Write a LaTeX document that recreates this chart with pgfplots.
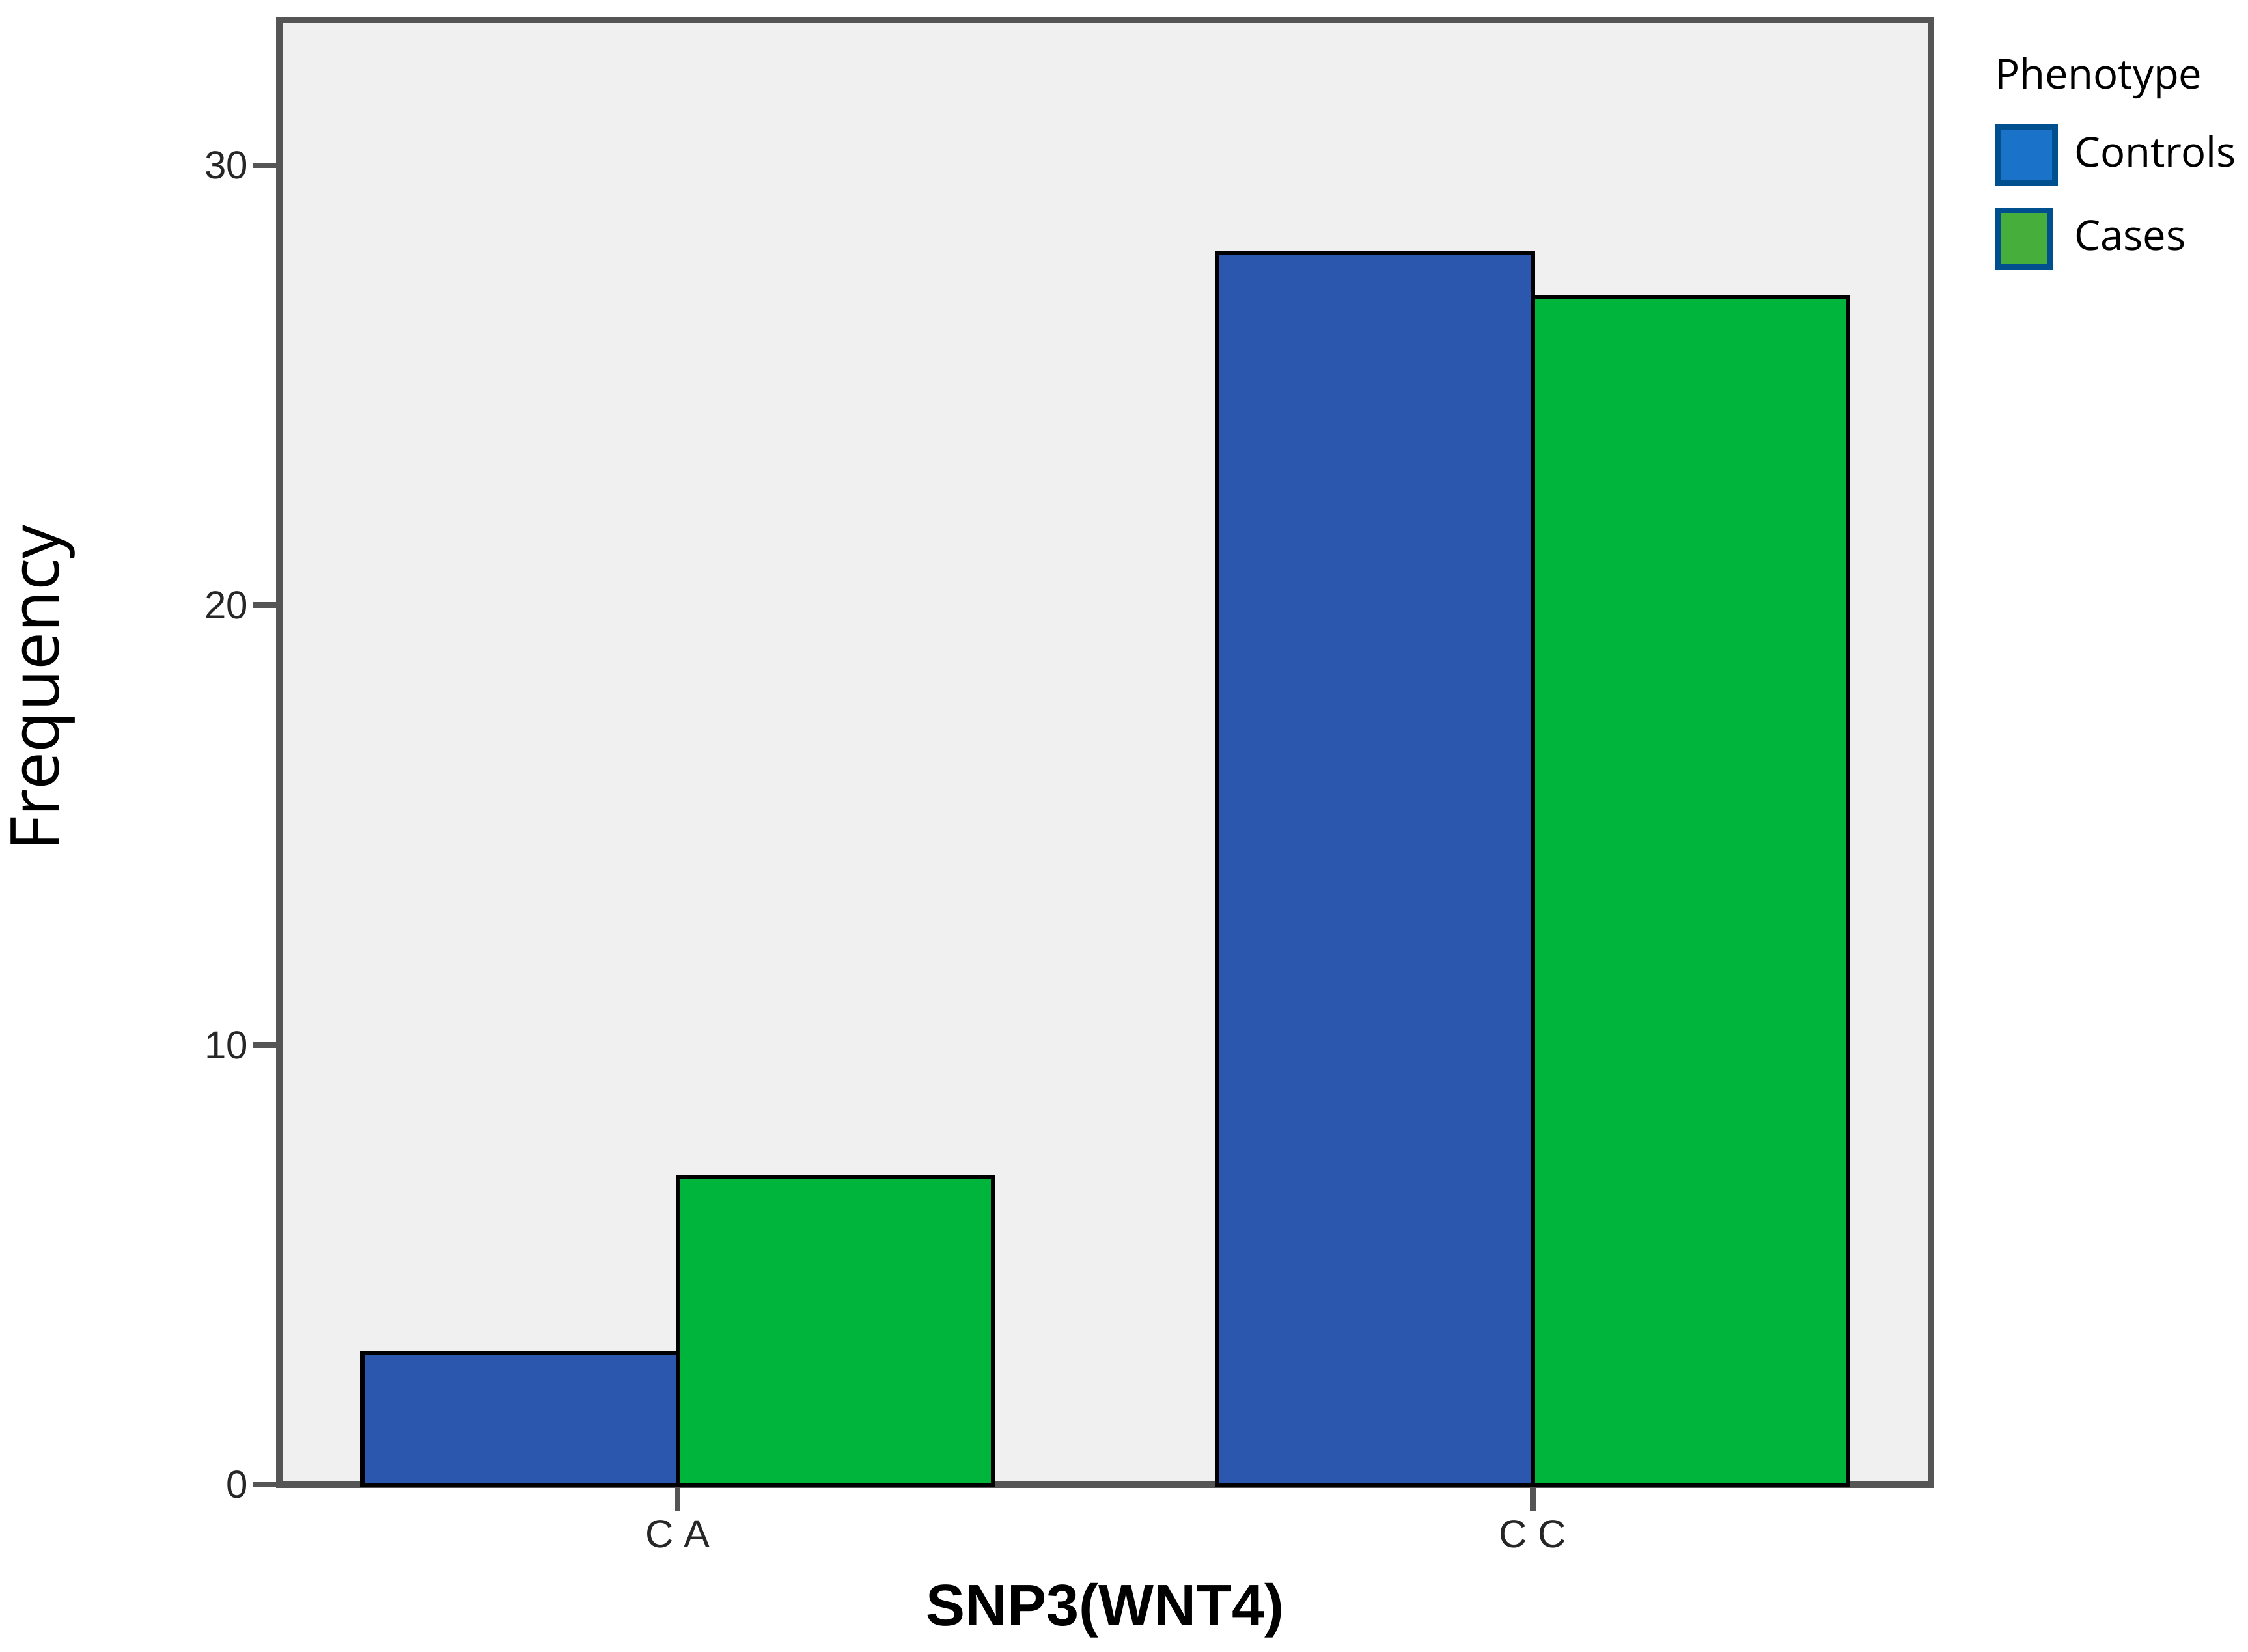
\documentclass[border=0pt]{standalone}
\usepackage{pgfplots}
\pgfplotsset{compat=1.18}
\usepackage{fontspec}
\setmainfont{Liberation Sans}
\newfontfamily\legfont{Open Sans}
\definecolor{barblue}{HTML}{2B57AF}
\definecolor{bargreen}{HTML}{00B53B}
\definecolor{legblue}{HTML}{1A73C8}
\definecolor{leggreen}{HTML}{46AF3C}
\definecolor{legborder}{HTML}{004F8F}
\definecolor{bggray}{HTML}{F0F0F0}
\definecolor{axisgray}{HTML}{555555}
\begin{document}
\begin{tikzpicture}
\begin{axis}[
  scale only axis,
  clip=false,
  width=380.6pt, height=337.5pt,
  xmin=-0.466, xmax=1.466,
  ymin=0, ymax=33.3,
  axis background/.style={fill=bggray},
  axis line style={draw=axisgray, line width=1.4pt},
  xtick={0,1}, xticklabels={C A, C C},
  ytick={0,10,20,30},
  xtick pos=bottom, ytick pos=left,
  tick align=outside,
  major tick length=6pt,
  every tick/.style={draw=axisgray, line width=1.3pt},
  tick label style={font=\fontsize{9}{10}\selectfont, text=black!85},
  /pgf/number format/assume math mode=true,
  yticklabel style={inner sep=1pt},
  xticklabel style={inner sep=1pt, yshift=-1pt},
  xlabel={\bfseries SNP3(WNT4)},
  xlabel style={font=\fontsize{13.5}{15}\selectfont, at={(axis description cs:0.5,-0.086)}, anchor=center},
  ylabel={\legfont Frequency},
  ylabel style={font=\fontsize{15.5}{17}\selectfont, at={(axis description cs:-0.143,0.544)}, anchor=center},
  legend style={at={(rel axis cs:1.0305,0.936)}, anchor=north west, draw=none, fill=none,
    font=\legfont\fontsize{9.5}{11}\selectfont, row sep=5pt,
    /tikz/every odd column/.append style={column sep=1.8pt},
    /tikz/every even column/.append style={column sep=0pt}},
  legend cell align=left,
]
\addplot[ybar, bar width=0.369, bar shift=-0.1845, fill=barblue, draw=black, line width=1pt,
  legend image code/.code={\draw[fill=legblue, draw=legborder, line width=1.4pt] (0pt,-6.5pt) rectangle (13pt,6.5pt);}]
  coordinates {(0,3) (1,28)};
\addlegendentry{Controls}
\addplot[ybar, bar width=0.369, bar shift=0.1845, fill=bargreen, draw=black, line width=1pt,
  legend image code/.code={\draw[fill=leggreen, draw=legborder, line width=1.4pt] (0pt,-6.5pt) rectangle (12pt,6.5pt);}]
  coordinates {(0,7) (1,27)};
\addlegendentry{Cases}
\node[anchor=west, font=\legfont\fontsize{9.5}{11}\selectfont, inner sep=0pt] at (rel axis cs:1.038,0.9605) {Phenotype};
\end{axis}
\pgfresetboundingbox
\path (-64.35pt,-38.4pt) rectangle (453.6pt,342.15pt);
\end{tikzpicture}
\end{document}
